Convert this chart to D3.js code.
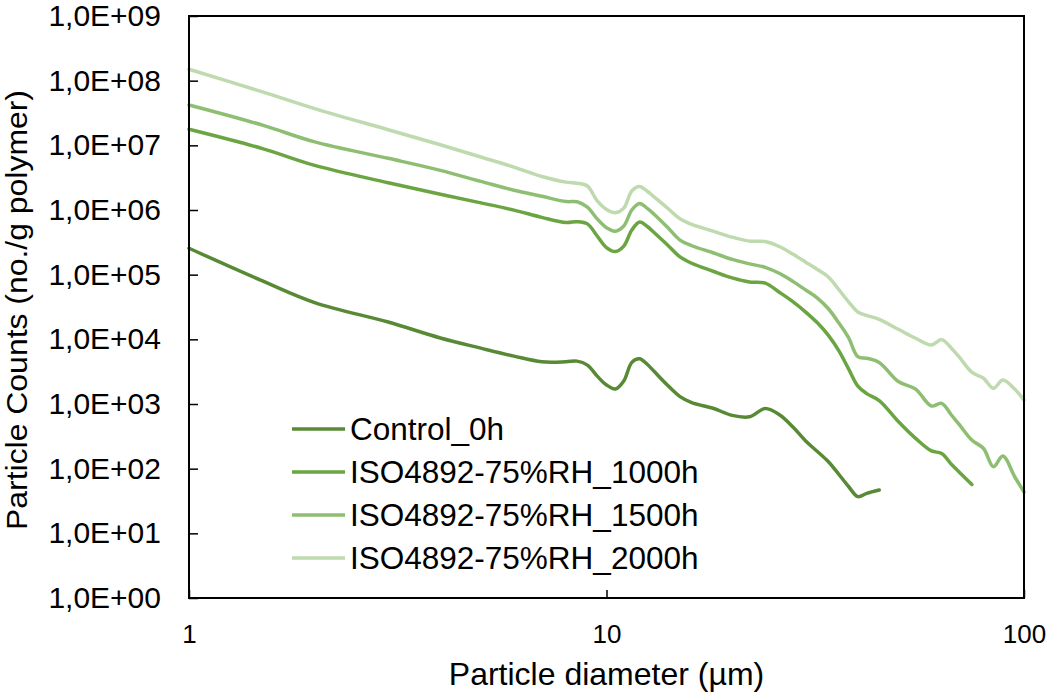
<!DOCTYPE html>
<html>
<head>
<meta charset="utf-8">
<style>
  body { margin: 0; background: #fff; font-family: 'Liberation Sans', Arial, sans-serif; }
  .axis .domain { display: none; }
  .axis line { stroke: #000; stroke-width: 1.5px; }
  .axis text { fill: #000; }
</style>
</head>
<body>
<svg width="1050" height="695"></svg>
<script src="https://d3js.org/d3.v7.min.js"></script>
<script>
// particle diameter bins (µm)
var diameters = [1, 1.5, 2, 3, 4, 5, 6, 7, 8, 8.5, 9, 9.5, 10, 10.5, 11, 11.5, 12, 12.5, 13, 14, 15, 16, 18, 20, 22, 24, 26, 28, 30, 32, 34, 36, 38, 40, 42, 45, 50, 55, 60, 63.5, 67, 70, 75, 80, 84.5, 89, 95, 100];

// particle counts (no./g polymer), null where the series has no value
var control0h = [2.56e5, 8.0e4, 3.7e4, 1.85e4, 1.05e4, 7.3e3, 5.5e3, 4.5e3, 4.5e3, 4.6e3, 4.0e3, 2.7e3, 1.97e3, 1.71e3, 2.27e3, 4.4e3, 5.0e3, 4.15e3, 3.2e3, 1.95e3, 1.3e3, 1.05e3, 860, 666, 634, 850, 676, 436, 268, 184, 128, 82, 53, 37, 41.6, 46.8,
  null, null, null, null, null, null, null, null, null, null, null, null];
var rh1000h = [1.77e7, 8.9e6, 4.9e6, 2.64e6, 1.75e6, 1.29e6, 9.96e5, 7.7e5, 6.4e5, 6.6e5, 6.1e5, 3.96e5, 2.63e5, 2.28e5, 2.77e5, 4.9e5, 6.5e5, 5.6e5, 4.5e5, 2.87e5, 1.88e5, 1.5e5, 1.13e5, 8.9e4, 7.7e4, 7.4e4, 5.3e4, 3.8e4, 2.64e4, 1.8e4, 1.15e4, 6.7e3, 3.5e3, 1.89e3, 1.45e3, 1.13e3, 536, 294, 188, 172, 117, 88, 57,
  null, null, null, null, null];
var rh1500h = [4.2e7, 2.05e7, 1.13e7, 6.3e6, 4.1e6, 2.77e6, 2.02e6, 1.63e6, 1.35e6, 1.34e6, 1.11e6, 7.3e5, 5.3e5, 4.7e5, 5.65e5, 1.0e6, 1.26e6, 1.07e6, 8.6e5, 5.4e5, 3.43e5, 2.8e5, 2.18e5, 1.72e5, 1.47e5, 1.3e5, 1.04e5, 7.8e4, 5.8e4, 4.35e4, 2.97e4, 1.8e4, 1.06e4, 5.4e3, 5.1e3, 4.4e3, 2.23e3, 1.7e3, 931, 1.02e3, 676, 480, 277, 205, 107, 157, 75, 43.5];
var rh2000h = [1.5e8, 6.7e7, 3.7e7, 1.74e7, 1.02e7, 6.6e6, 4.6e6, 3.3e6, 2.7e6, 2.6e6, 2.35e6, 1.38e6, 1.02e6, 9.1e5, 1.07e6, 1.97e6, 2.3e6, 1.97e6, 1.6e6, 1.07e6, 7.3e5, 6.0e5, 4.7e5, 3.8e5, 3.3e5, 3.25e5, 2.7e5, 2.06e5, 1.56e5, 1.2e5, 9.2e4, 5.9e4, 3.8e4, 2.65e4, 2.34e4, 2.03e4, 1.43e4, 1.04e4, 8.2e3, 9.9e3, 7.3e3, 5.3e3, 3.1e3, 2.5e3, 1.75e3, 2.35e3, 1.7e3, 1.15e3];

var seriesNames = ["Control_0h", "ISO4892-75%RH_1000h", "ISO4892-75%RH_1500h", "ISO4892-75%RH_2000h"];
var seriesColors = ["#588a36", "#6aa541", "#8ebe72", "#bedaae"];

var yTickValues = [1, 1e1, 1e2, 1e3, 1e4, 1e5, 1e6, 1e7, 1e8, 1e9];
var yTickLabels = ["1,0E+00", "1,0E+01", "1,0E+02", "1,0E+03", "1,0E+04", "1,0E+05", "1,0E+06", "1,0E+07", "1,0E+08", "1,0E+09"];
var xTickValues = [1, 10, 100];
var xTickLabels = ["1", "10", "100"];

var svg = d3.select("svg"),
    margin = {top: 16, right: 26, bottom: 97, left: 189},
    width = +svg.attr("width") - margin.left - margin.right,
    height = +svg.attr("height") - margin.top - margin.bottom,
    g = svg.append("g").attr("transform", "translate(" + margin.left + "," + margin.top + ")");

var x = d3.scaleLog().domain([1, 100]).range([0, width]);
var y = d3.scaleLog().domain([1, 1e9]).range([height, 0]);

var allSeries = [control0h, rh1000h, rh1500h, rh2000h];

// y axis
g.append("g")
  .attr("class", "axis")
  .call(d3.axisLeft(y)
    .tickValues(yTickValues)
    .tickSize(-9)
    .tickPadding(28)
    .tickFormat(function(d, i) { return yTickLabels[i]; }))
  .attr("font-size", 30)
  .attr("font-family", "'Liberation Sans', Arial, sans-serif");

// x axis
g.append("g")
  .attr("class", "axis")
  .attr("transform", "translate(0," + height + ")")
  .call(d3.axisBottom(x)
    .tickValues(xTickValues)
    .tickSize(-8)
    .tickPadding(27)
    .tickFormat(function(d, i) { return xTickLabels[i]; }))
  .attr("font-size", 26)
  .attr("font-family", "'Liberation Sans', Arial, sans-serif");

// lines
var line = d3.line()
  .defined(function(d) { return d[1] != null; })
  .x(function(d) { return x(d[0]); })
  .y(function(d) { return y(d[1]); })
  .curve(d3.curveCatmullRom.alpha(0.5));

g.append("g")
  .selectAll("path")
  .data(allSeries)
  .enter().append("path")
  .attr("fill", "none")
  .attr("stroke", function(d, i) { return seriesColors[i]; })
  .attr("stroke-width", 3.5)
  .attr("stroke-linecap", "round")
  .attr("d", function(s) {
    return line(diameters.map(function(dm, i) { return [dm, s[i]]; }));
  });

// frame
g.append("rect")
  .attr("width", width)
  .attr("height", height)
  .attr("fill", "none")
  .attr("stroke", "#000")
  .attr("stroke-width", 2);

// axis titles
svg.append("text")
  .attr("transform", "translate(27," + (margin.top + height / 2 + 3) + ") rotate(-90)")
  .attr("text-anchor", "middle")
  .attr("font-size", 30)
  .attr("textLength", 440)
  .attr("lengthAdjust", "spacingAndGlyphs")
  .text("Particle Counts (no./g polymer)");

svg.append("text")
  .attr("x", margin.left + width / 2)
  .attr("y", 685)
  .attr("text-anchor", "middle")
  .attr("font-size", 32)
  .text("Particle diameter (µm)");

// legend
var legend = svg.append("g")
  .selectAll("g")
  .data(seriesNames)
  .enter().append("g")
  .attr("transform", function(d, i) { return "translate(292," + (429 + i * 43) + ")"; });

legend.append("line")
  .attr("x1", 0)
  .attr("x2", 53)
  .attr("stroke", function(d, i) { return seriesColors[i]; })
  .attr("stroke-width", 3.5);

legend.append("text")
  .attr("x", 58)
  .attr("dy", "0.35em")
  .attr("font-size", 31.5)
  .text(function(d) { return d; });
</script>
</body>
</html>
